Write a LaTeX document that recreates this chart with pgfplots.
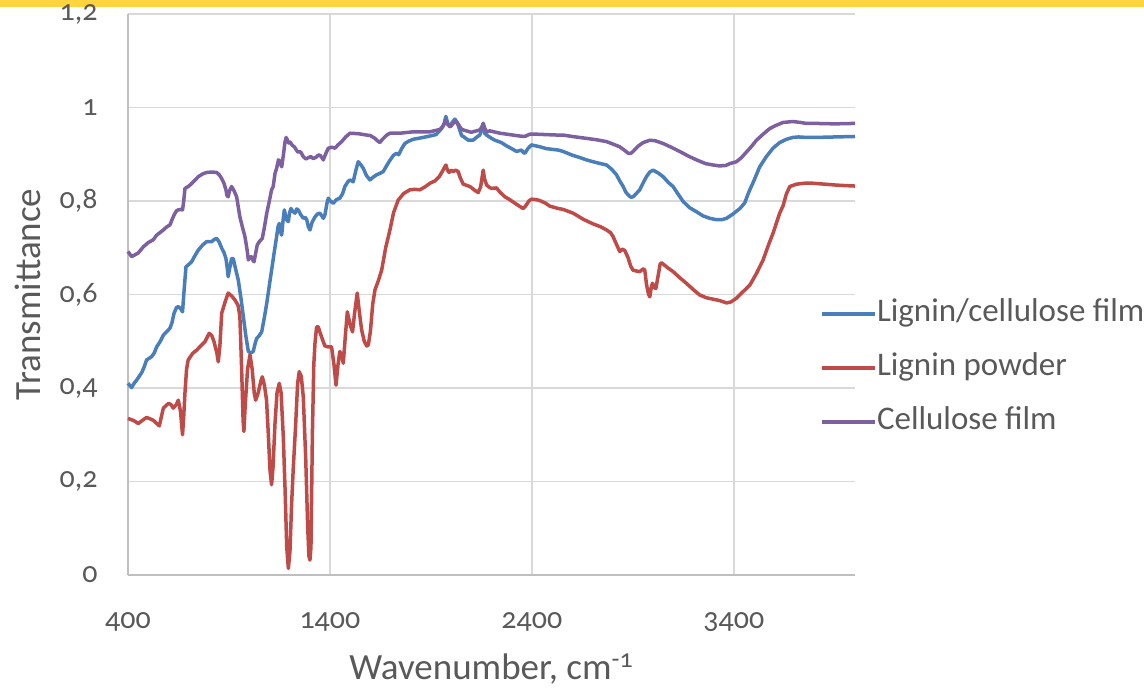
\documentclass[border=0pt]{standalone}
\usepackage{fontspec}
\setmainfont{Carlito}[Numbers=OldStyle]
\usepackage{pgfplots}
\pgfplotsset{compat=1.18}
\definecolor{txt}{HTML}{595959}
\definecolor{barY}{HTML}{FFD43F}
\definecolor{grd}{HTML}{D9D9D9}
\definecolor{axl}{HTML}{BFBFBF}
\definecolor{cblue}{HTML}{4A7EBB}
\definecolor{cred}{HTML}{BE4B48}
\definecolor{cpurple}{HTML}{7D60A0}
\begin{document}
\begin{tikzpicture}
\useasboundingbox (0pt,0pt) rectangle (572pt,343.5pt);
\fill[barY] (0pt,340pt) rectangle (572pt,343.5pt);
\begin{axis}[
  at={(64pt,56pt)}, anchor=south west,
  scale only axis, width=363.5pt, height=280.5pt,
  xmin=400, xmax=4000, ymin=0, ymax=1.2,
  xtick={400,1400,2400,3400},
  ytick={0,0.2,0.4,0.6,0.8,1,1.2},
  /pgf/number format/assume math mode=true,
  /pgf/number format/use comma,
  /pgf/number format/1000 sep={},
  axis x line*=bottom, axis y line*=left,
  axis line style={draw=axl, line width=0.8pt, -},
  grid=major, major grid style={draw=grd, line width=0.8pt},
  major tick length=0pt,
  tick label style={font=\fontsize{15}{17}\selectfont, text=txt},
  xticklabel style={anchor=base, yshift=-26.5pt},
  yticklabel style={anchor=east, inner sep=0pt, xshift=-15pt},
  xlabel={Wavenumber, cm\textsuperscript{-1}},
  ylabel={Transmittance},
  label style={font=\fontsize{18.5}{21}\selectfont, text=txt},
  xlabel style={at={(axis description cs:0.5,-0.187)}, anchor=base},
  ylabel style={at={(axis description cs:-0.121,0.5)}, anchor=base},
  legend style={at={(0.952,0.369)}, anchor=west, draw=none, fill=none,
    font=\fontsize{16.5}{19}\selectfont, text=txt, inner sep=0pt,
    row sep=11pt,
    nodes={inner sep=0pt, text height=12pt, text depth=4pt}},
  legend cell align=left,
  legend image code/.code={\draw[#1] (0pt,0pt) -- (26.5pt,0pt);},
  /tikz/every even column/.append style={column sep=3.5pt},
  every axis plot/.append style={line width=1.75pt, line join=round},
  clip=false
]
\addplot[cblue] coordinates {
(400,0.410)(418,0.401)(430,0.41)(443,0.417)(468,0.433)(480,0.445)(492,0.460)(517,0.467)(530,0.475)(542,0.488)(560,0.50)(575,0.513)(595,0.522)(608,0.528)(618,0.54)(628,0.560)(640,0.572)(649,0.574)(660,0.570)(670,0.563)(678,0.61)(687,0.659)(700,0.664)(715,0.670)(730,0.682)(748,0.695)(770,0.706)(789,0.713)(814,0.713)(828,0.718)(839,0.720)(852,0.712)(864,0.699)(875,0.69)(885,0.677)(892,0.655)(896,0.638)(903,0.655)(913,0.677)(921,0.677)(930,0.66)(946,0.631)(960,0.59)(971,0.553)(984,0.51)(996,0.478)(1008,0.475)(1020,0.478)(1030,0.496)(1037,0.506)(1050,0.512)(1062,0.520)(1075,0.55)(1087,0.581)(1100,0.62)(1111,0.652)(1124,0.69)(1136,0.724)(1143,0.745)(1149,0.752)(1155,0.735)(1161,0.727)(1167,0.755)(1174,0.781)(1182,0.765)(1188,0.758)(1194,0.756)(1200,0.775)(1207,0.784)(1215,0.778)(1227,0.774)(1235,0.783)(1243,0.781)(1255,0.771)(1268,0.763)(1278,0.765)(1285,0.760)(1293,0.745)(1301,0.738)(1312,0.755)(1326,0.766)(1338,0.772)(1350,0.774)(1360,0.768)(1367,0.763)(1375,0.770)(1385,0.795)(1392,0.806)(1400,0.801)(1416,0.795)(1432,0.803)(1449,0.806)(1462,0.815)(1474,0.831)(1490,0.842)(1499,0.845)(1515,0.841)(1528,0.865)(1540,0.884)(1552,0.878)(1565,0.870)(1580,0.855)(1598,0.845)(1614,0.851)(1631,0.856)(1647,0.859)(1664,0.863)(1680,0.875)(1697,0.887)(1715,0.898)(1730,0.902)(1740,0.899)(1755,0.912)(1771,0.923)(1790,0.928)(1812,0.932)(1850,0.935)(1895,0.939)(1925,0.942)(1953,0.955)(1965,0.965)(1974,0.981)(1984,0.965)(1994,0.959)(2005,0.968)(2019,0.975)(2030,0.968)(2040,0.955)(2052,0.940)(2060,0.938)(2085,0.930)(2109,0.930)(2125,0.936)(2142,0.941)(2152,0.955)(2159,0.966)(2166,0.945)(2176,0.941)(2200,0.934)(2217,0.930)(2249,0.925)(2274,0.918)(2300,0.912)(2324,0.906)(2340,0.908)(2349,0.909)(2357,0.904)(2365,0.902)(2380,0.912)(2398,0.920)(2439,0.916)(2472,0.912)(2530,0.909)(2555,0.906)(2600,0.898)(2637,0.893)(2670,0.888)(2703,0.884)(2740,0.880)(2770,0.877)(2795,0.868)(2819,0.856)(2835,0.843)(2852,0.831)(2865,0.819)(2877,0.813)(2890,0.808)(2901,0.809)(2915,0.815)(2934,0.824)(2950,0.838)(2967,0.852)(2984,0.862)(3000,0.866)(3025,0.860)(3050,0.852)(3075,0.840)(3099,0.831)(3125,0.814)(3149,0.799)(3180,0.786)(3215,0.777)(3248,0.768)(3281,0.763)(3314,0.760)(3340,0.760)(3364,0.763)(3395,0.772)(3430,0.784)(3454,0.796)(3466,0.81)(3479,0.824)(3496,0.840)(3528,0.873)(3561,0.895)(3594,0.913)(3627,0.925)(3660,0.932)(3693,0.936)(3720,0.937)(3760,0.936)(3809,0.936)(3900,0.937)(4000,0.938)
};
\addlegendentry{Lignin/cellulose film}
\addplot[cred] coordinates {
(400,0.335)(430,0.330)(451,0.324)(475,0.332)(492,0.337)(510,0.334)(525,0.331)(555,0.319)(575,0.357)(600,0.367)(612,0.365)(624,0.357)(640,0.365)(649,0.374)(660,0.35)(670,0.300)(676,0.34)(682,0.389)(690,0.44)(698,0.460)(720,0.474)(740,0.481)(760,0.490)(781,0.499)(802,0.517)(815,0.512)(826,0.499)(840,0.475)(847,0.456)(855,0.49)(864,0.560)(880,0.583)(896,0.603)(913,0.597)(930,0.588)(945,0.577)(954,0.553)(962,0.45)(970,0.33)(974,0.307)(980,0.36)(992,0.44)(1004,0.471)(1015,0.44)(1025,0.39)(1032,0.374)(1045,0.39)(1058,0.415)(1065,0.424)(1076,0.405)(1086,0.374)(1095,0.30)(1103,0.225)(1111,0.193)(1118,0.23)(1128,0.325)(1138,0.39)(1149,0.410)(1158,0.39)(1165,0.33)(1169,0.296)(1178,0.18)(1186,0.06)(1194,0.014)(1202,0.05)(1210,0.15)(1218,0.225)(1230,0.32)(1240,0.41)(1248,0.435)(1258,0.425)(1268,0.381)(1280,0.25)(1290,0.10)(1296,0.04)(1301,0.032)(1306,0.06)(1313,0.30)(1320,0.45)(1326,0.496)(1334,0.531)(1342,0.531)(1350,0.520)(1362,0.505)(1375,0.490)(1390,0.488)(1408,0.488)(1420,0.45)(1430,0.406)(1440,0.45)(1449,0.478)(1458,0.47)(1466,0.453)(1476,0.51)(1486,0.563)(1500,0.535)(1512,0.520)(1522,0.56)(1535,0.603)(1545,0.565)(1557,0.524)(1570,0.5)(1582,0.49)(1590,0.492)(1600,0.52)(1612,0.58)(1623,0.610)(1640,0.630)(1656,0.652)(1676,0.70)(1697,0.738)(1715,0.775)(1738,0.802)(1765,0.816)(1796,0.824)(1820,0.825)(1845,0.824)(1870,0.83)(1895,0.838)(1920,0.843)(1941,0.852)(1955,0.862)(1965,0.87)(1974,0.877)(1982,0.866)(1990,0.861)(2000,0.866)(2010,0.863)(2022,0.866)(2035,0.863)(2045,0.85)(2060,0.836)(2093,0.831)(2120,0.822)(2134,0.818)(2146,0.83)(2155,0.855)(2159,0.866)(2165,0.848)(2176,0.834)(2190,0.829)(2200,0.827)(2225,0.828)(2240,0.82)(2266,0.809)(2290,0.803)(2324,0.793)(2345,0.787)(2357,0.784)(2370,0.79)(2385,0.8)(2398,0.804)(2420,0.803)(2439,0.801)(2465,0.796)(2489,0.789)(2530,0.784)(2555,0.782)(2604,0.774)(2654,0.761)(2703,0.751)(2740,0.745)(2770,0.738)(2790,0.732)(2802,0.724)(2820,0.706)(2835,0.692)(2848,0.697)(2860,0.694)(2875,0.68)(2890,0.66)(2901,0.652)(2920,0.650)(2934,0.649)(2952,0.655)(2959,0.652)(2968,0.62)(2978,0.60)(2984,0.595)(2991,0.615)(2997,0.624)(3005,0.615)(3014,0.613)(3025,0.64)(3035,0.665)(3042,0.668)(3070,0.658)(3099,0.649)(3132,0.636)(3165,0.624)(3198,0.611)(3231,0.599)(3264,0.593)(3297,0.590)(3330,0.587)(3364,0.582)(3385,0.584)(3413,0.592)(3438,0.603)(3460,0.612)(3479,0.620)(3512,0.645)(3545,0.674)(3575,0.71)(3594,0.731)(3627,0.774)(3644,0.790)(3660,0.815)(3677,0.831)(3710,0.836)(3750,0.838)(3792,0.838)(3850,0.836)(3908,0.834)(3950,0.833)(4000,0.832)
};
\addlegendentry{Lignin powder}
\addplot[cpurple] coordinates {
(400,0.692)(418,0.681)(435,0.685)(451,0.689)(476,0.702)(500,0.711)(525,0.717)(542,0.727)(560,0.733)(575,0.738)(590,0.744)(608,0.749)(618,0.76)(628,0.770)(640,0.779)(649,0.781)(660,0.782)(670,0.781)(676,0.80)(682,0.827)(695,0.830)(707,0.834)(728,0.843)(748,0.852)(770,0.858)(789,0.861)(815,0.862)(839,0.861)(852,0.856)(864,0.848)(875,0.838)(885,0.824)(890,0.812)(896,0.809)(903,0.822)(913,0.831)(925,0.822)(938,0.809)(954,0.766)(966,0.745)(979,0.724)(990,0.695)(996,0.674)(1005,0.680)(1013,0.681)(1020,0.672)(1024,0.670)(1032,0.688)(1040,0.706)(1052,0.714)(1065,0.720)(1076,0.745)(1087,0.774)(1100,0.80)(1111,0.824)(1119,0.831)(1128,0.859)(1136,0.870)(1145,0.888)(1152,0.885)(1161,0.873)(1170,0.90)(1177,0.925)(1183,0.936)(1190,0.930)(1196,0.924)(1203,0.926)(1212,0.920)(1225,0.915)(1240,0.905)(1255,0.905)(1268,0.895)(1280,0.89)(1290,0.892)(1305,0.895)(1317,0.891)(1330,0.893)(1342,0.898)(1350,0.898)(1360,0.893)(1367,0.888)(1380,0.902)(1392,0.913)(1410,0.915)(1425,0.913)(1440,0.920)(1458,0.927)(1478,0.937)(1499,0.945)(1540,0.944)(1582,0.941)(1600,0.940)(1623,0.934)(1635,0.929)(1647,0.925)(1660,0.932)(1681,0.941)(1697,0.945)(1746,0.945)(1812,0.948)(1850,0.948)(1895,0.948)(1944,0.953)(1960,0.960)(1974,0.973)(1985,0.963)(1997,0.959)(2010,0.966)(2019,0.970)(2035,0.965)(2048,0.955)(2060,0.952)(2100,0.947)(2142,0.952)(2152,0.958)(2159,0.966)(2167,0.955)(2176,0.948)(2192,0.950)(2242,0.945)(2307,0.941)(2340,0.939)(2365,0.938)(2390,0.943)(2420,0.943)(2470,0.942)(2530,0.941)(2555,0.941)(2600,0.938)(2670,0.934)(2720,0.931)(2770,0.927)(2800,0.922)(2835,0.916)(2860,0.908)(2877,0.902)(2890,0.902)(2901,0.906)(2925,0.917)(2951,0.925)(2984,0.930)(3010,0.929)(3050,0.923)(3090,0.915)(3132,0.906)(3175,0.896)(3215,0.888)(3260,0.880)(3297,0.877)(3330,0.875)(3360,0.876)(3380,0.880)(3413,0.884)(3438,0.893)(3463,0.905)(3490,0.918)(3512,0.930)(3545,0.943)(3578,0.955)(3610,0.962)(3644,0.968)(3693,0.970)(3730,0.968)(3759,0.966)(3800,0.966)(3900,0.965)(4000,0.966)
};
\addlegendentry{Cellulose film}
\end{axis}
\end{tikzpicture}
\end{document}
